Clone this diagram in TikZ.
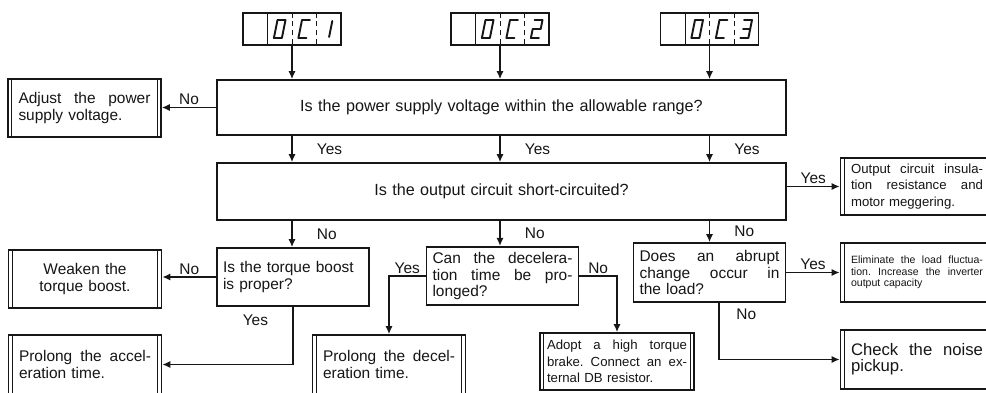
\documentclass[tikz,border=0pt]{standalone}
\usepackage{fontspec}
\setmainfont{Liberation Sans}
\usepackage{tikz}
\usetikzlibrary{
    arrows.meta,
    positioning
}
\definecolor{ink}{RGB}{22,22,22}
\definecolor{paper}{RGB}{255,255,255}
\newcommand\qsize{\fontsize{8.8}{9.2}\selectfont}
\newcommand\headsize{\fontsize{9.2}{9.6}\selectfont}
\newcommand\remsize{\fontsize{7.5}{9.4}\selectfont}
\newcommand\finesize{\fontsize{6}{6.6}\selectfont}
\newcommand\bigsize{\fontsize{9.5}{9}\selectfont}
\tikzset{
    display/.style={
        rectangle,
        draw=ink,
        line width=0.8pt,
        minimum width=1.96cm,
        minimum height=0.64cm,
        inner sep=0pt
    },
    cellline/.style={
        draw=ink,
        line width=0.5pt
    },
    segline/.style={
        draw=ink,
        line width=1.1pt,
        line cap=round,
        line join=round
    },
    question/.style={
        rectangle,
        draw=ink,
        line width=1pt,
        minimum width=11.38cm,
        text width=11cm,
        align=center,
        font=\headsize,
        text=ink
    },
    decision/.style={
        rectangle,
        draw=ink,
        line width=1pt,
        minimum width=3.04cm,
        minimum height=1.16cm,
        text width=2.8cm,
        align=left,
        font=\qsize,
        text=ink
    },
    remedy/.style={
        rectangle,
        draw=ink,
        line width=1pt,
        minimum width=3.06cm,
        minimum height=1.16cm,
        text width=2.64cm,
        align=left,
        font=\qsize,
        text=ink,
        path picture={
            \draw[ink, line width=0.6pt]
                ([xshift=2.2pt]path picture bounding box.north west) -- ([xshift=2.2pt]path picture bounding box.south west)
                ([xshift=-2.2pt]path picture bounding box.north east) -- ([xshift=-2.2pt]path picture bounding box.south east);
        }
    },
    flowarrow/.style={
        -{Latex[length=4.5pt,width=4pt]},
        draw=ink,
        line width=0.8pt
    },
    answer/.style={
        font=\qsize,
        text=ink,
        inner sep=1pt
    },
    seg zero/.pic={\draw[segline] (0,0) rectangle (8,18);},
    seg C/.pic={\draw[segline] (8,0) -- (0,0) -- (0,18) -- (8,18);},
    seg one/.pic={\draw[segline] (6,1) -- (6,17);},
    seg two/.pic={\draw[segline] (0,0) -- (8,0) -- (8,9) -- (0,9) -- (0,18) -- (8,18);},
    seg three/.pic={\draw[segline] (0,0) -- (8,0) -- (8,18) -- (0,18) (1,9) -- (8,9);}
}

\begin{document}
\begin{tikzpicture}[x=0.02cm, y=-0.02cm]

\useasboundingbox (0,0) rectangle (986,392);
\fill[paper] (0,0) rectangle (986,392);
\clip (0,0) rectangle (986,392);

% code displays
\foreach \cx/\nm/\dg in {292/oc1/one, 500/oc2/two, 709.5/oc3/three} {
    \node[display] (\nm) at (\cx, 29) {};
    \draw[cellline] ([xshift=-0.49cm]\nm.north) -- ([xshift=-0.49cm]\nm.south);
    \draw[cellline, densely dashed] (\nm.north) -- (\nm.south);
    \draw[cellline, densely dashed] ([xshift=0.49cm]\nm.north) -- ([xshift=0.49cm]\nm.south);
    \pic[xslant=0.2] at (\cx-14.5, 20) {seg zero};
    \pic[xslant=0.2] at (\cx+10, 20) {seg C};
    \pic[xslant=0.2] at (\cx+34.5, 20) {seg \dg};
}

\node[question, minimum height=1.1cm] (q1) at (501.5, 107.5) {Is the power supply voltage within the allowable range?};
\node[question, minimum height=1.14cm] (q2) at (501.5, 191.5) {Is the output circuit short-circuited?};

\node[remedy] (adjust) at (84.5, 108) {Adjust\hfill the\hfill power\\supply voltage.};
\node[remedy, font=\remsize, minimum height=1.14cm] (outins) at (917, 186.5) {Output\hfill circuit\hfill insula-\\tion\hfill resistance\hfill and\\motor meggering.};

\node[decision] (torque) at (293, 277) {Is the torque boost\\is proper?};
\node[remedy, align=center] (weaken) at (85, 279) {Weaken the\\torque boost.};
\node[remedy, minimum height=1.18cm] (accel) at (85, 364.5) {Prolong\hfill the\hfill accel-\\eration time.};

\node[decision] (decq) at (502.5, 276) {Can\hfill the\hfill decelera-\\tion\hfill time\hfill be\hfill pro-\\longed?};
\node[remedy, minimum height=1.18cm] (pdecel) at (389, 364.5) {Prolong\hfill the\hfill decel-\\eration time.};
\node[remedy, font=\remsize, text width=2.8cm, minimum width=3.08cm, minimum height=1.14cm] (adopt) at (617, 361.5) {Adopt\hfill a\hfill high\hfill torque\\brake.\hfill Connect\hfill an\hfill ex-\\ternal DB resistor.};

\node[decision, minimum height=1.18cm] (load) at (709.5, 272.5) {Does\hfill an\hfill abrupt\\change\hfill occur\hfill in\\the load?};
\node[remedy, font=\finesize, minimum height=1.18cm] (elim) at (917, 272.5) {Eliminate\hfill the\hfill load\hfill fluctua-\\tion.\hfill Increase\hfill the\hfill inverter\\output capacity};
\node[remedy, font=\bigsize, minimum height=1.18cm] (noise) at (917, 359.5) {Check\hfill the\hfill noise\\pickup.};

% connectors
\foreach \col/\nxt in {oc1/torque, oc2/decq, oc3/load} {
    \draw[flowarrow] (\col.south) -- (\col.south |- q1.north);
    \draw[flowarrow] (\col |- q1.south) -- node[answer, right=0.45cm] {Yes} (\col |- q2.north);
    \draw[flowarrow] (\col |- q2.south) -- node[answer, right=0.45cm] {No} (\col |- \nxt.north);
}

\draw[flowarrow] (q1.west) -- node[answer, above] {No} (q1.west -| adjust.east);
\draw[flowarrow] (outins.west -| q2.east) -- node[answer, above] {Yes} (outins.west);

\draw[flowarrow] (torque.west) -- node[answer, above] {No} (torque.west -| weaken.east);
\draw[flowarrow] (torque.south) |- node[answer, pos=0.12, left=0.45cm] {Yes} (accel.east);

\draw[flowarrow] (decq.west) -| node[answer, pos=0.25, above] {Yes} (pdecel.north);
\draw[flowarrow] (decq.east) -| node[answer, pos=0.25, above] {No} (adopt.north);

\draw[flowarrow] (load.east) -- node[answer, above] {Yes} (load.east -| elim.west);
\draw[flowarrow] ([xshift=0.19cm]load.south) |- node[answer, pos=0.1, right=0.3cm] {No} (noise.west);

\end{tikzpicture}
\end{document}
